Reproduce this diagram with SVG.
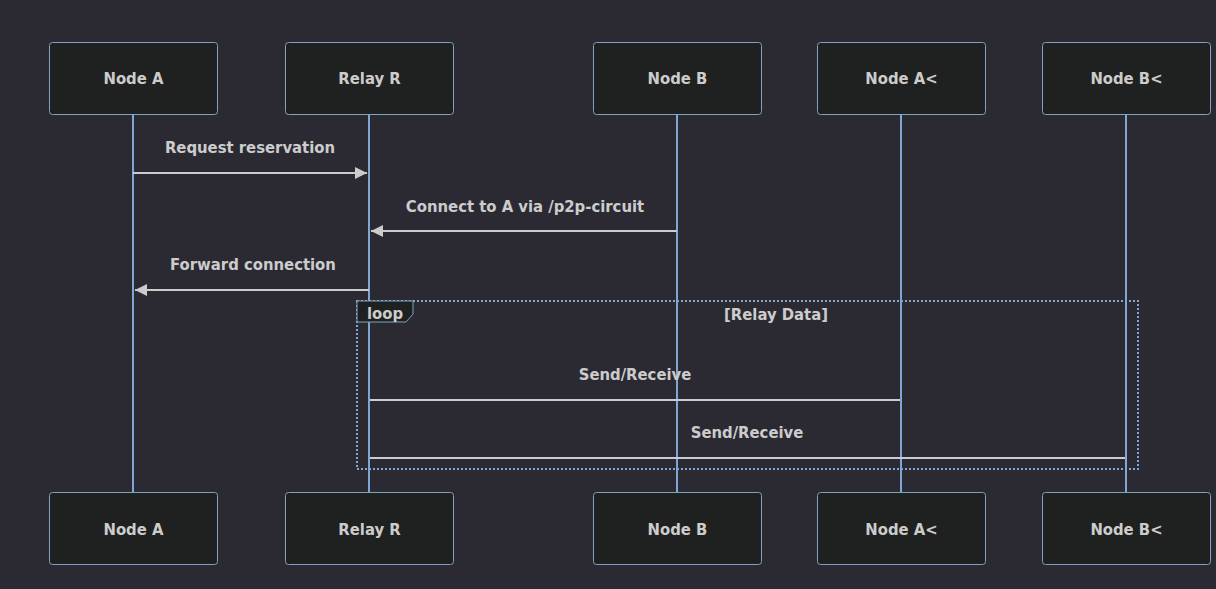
<svg xmlns="http://www.w3.org/2000/svg" width="1216" height="589" viewBox="0 0 1216 589">
<defs>
<style>
.actor{fill:#1f2020;stroke:#81a1c1;stroke-width:1}
.atext{fill:#cccccc;font-family:"DejaVu Sans Condensed","DejaVu Sans",sans-serif;font-stretch:condensed;font-weight:bold;font-size:16.5px;text-anchor:middle;dominant-baseline:central}
.life{stroke:#7fa6d4;stroke-width:2}
.msg{stroke:#cccccc;stroke-width:2;fill:none}
.mtext{fill:#cccccc;font-family:"DejaVu Sans Condensed","DejaVu Sans",sans-serif;font-stretch:condensed;font-weight:bold;font-size:16.5px;text-anchor:middle}
.loop{fill:none;stroke:#7fa6d4;stroke-width:2;stroke-dasharray:2,2}
</style>
<marker id="ah" viewBox="0 0 12 12" refX="12" refY="6" markerWidth="12" markerHeight="12" markerUnits="userSpaceOnUse" orient="auto">
<path d="M0,0 L12,6 L0,12 z" fill="#cccccc"/>
</marker>
</defs>
<rect width="1216" height="589" fill="#2b2a32"/>
<g id="lifelines">
<line class="life" x1="133" y1="114" x2="133" y2="492"/>
<line class="life" x1="369" y1="114" x2="369" y2="492"/>
<line class="life" x1="677" y1="114" x2="677" y2="492"/>
<line class="life" x1="901" y1="114" x2="901" y2="492"/>
<line class="life" x1="1126" y1="114" x2="1126" y2="492"/>
</g>
<g id="loop-frame">
<rect class="loop" x="357" y="301" width="781" height="168"/>
<path d="M357,301 L413,301 L413,314 L406,322 L357,322 Z" fill="#1f2020" stroke="#81a1c1" stroke-width="1"/>
<text class="mtext" x="385" y="319">loop</text>
<text class="mtext" x="776" y="320">[Relay Data]</text>
</g>
<g id="connectors">
<line class="msg" x1="133" y1="173" x2="367" y2="173" marker-end="url(#ah)"/>
<text class="mtext" x="250" y="153">Request reservation</text>
<line class="msg" x1="677" y1="231" x2="371" y2="231" marker-end="url(#ah)"/>
<text class="mtext" x="525" y="212">Connect to A via /p2p-circuit</text>
<line class="msg" x1="369" y1="290" x2="135" y2="290" marker-end="url(#ah)"/>
<text class="mtext" x="253" y="270">Forward connection</text>
<line class="msg" x1="370" y1="400" x2="900" y2="400"/>
<text class="mtext" x="635" y="380">Send/Receive</text>
<line class="msg" x1="370" y1="458" x2="1125" y2="458"/>
<text class="mtext" x="747" y="438">Send/Receive</text>
</g>
<g id="node-a-top"><rect class="actor" x="49.5" y="42.5" width="168" height="72" rx="3"/><text class="atext" x="133.5" y="78.5">Node A</text></g>
<g id="relay-r-top"><rect class="actor" x="285.5" y="42.5" width="168" height="72" rx="3"/><text class="atext" x="369.5" y="78.5">Relay R</text></g>
<g id="node-b-top"><rect class="actor" x="593.5" y="42.5" width="168" height="72" rx="3"/><text class="atext" x="677.5" y="78.5">Node B</text></g>
<g id="node-a2-top"><rect class="actor" x="817.5" y="42.5" width="168" height="72" rx="3"/><text class="atext" x="901.5" y="78.5">Node A&lt;</text></g>
<g id="node-b2-top"><rect class="actor" x="1042.5" y="42.5" width="168" height="72" rx="3"/><text class="atext" x="1126.5" y="78.5">Node B&lt;</text></g>
<g id="node-a-bottom"><rect class="actor" x="49.5" y="492.5" width="168" height="72" rx="3"/><text class="atext" x="133.5" y="529">Node A</text></g>
<g id="relay-r-bottom"><rect class="actor" x="285.5" y="492.5" width="168" height="72" rx="3"/><text class="atext" x="369.5" y="529">Relay R</text></g>
<g id="node-b-bottom"><rect class="actor" x="593.5" y="492.5" width="168" height="72" rx="3"/><text class="atext" x="677.5" y="529">Node B</text></g>
<g id="node-a2-bottom"><rect class="actor" x="817.5" y="492.5" width="168" height="72" rx="3"/><text class="atext" x="901.5" y="529">Node A&lt;</text></g>
<g id="node-b2-bottom"><rect class="actor" x="1042.5" y="492.5" width="168" height="72" rx="3"/><text class="atext" x="1126.5" y="529">Node B&lt;</text></g>
</svg>
